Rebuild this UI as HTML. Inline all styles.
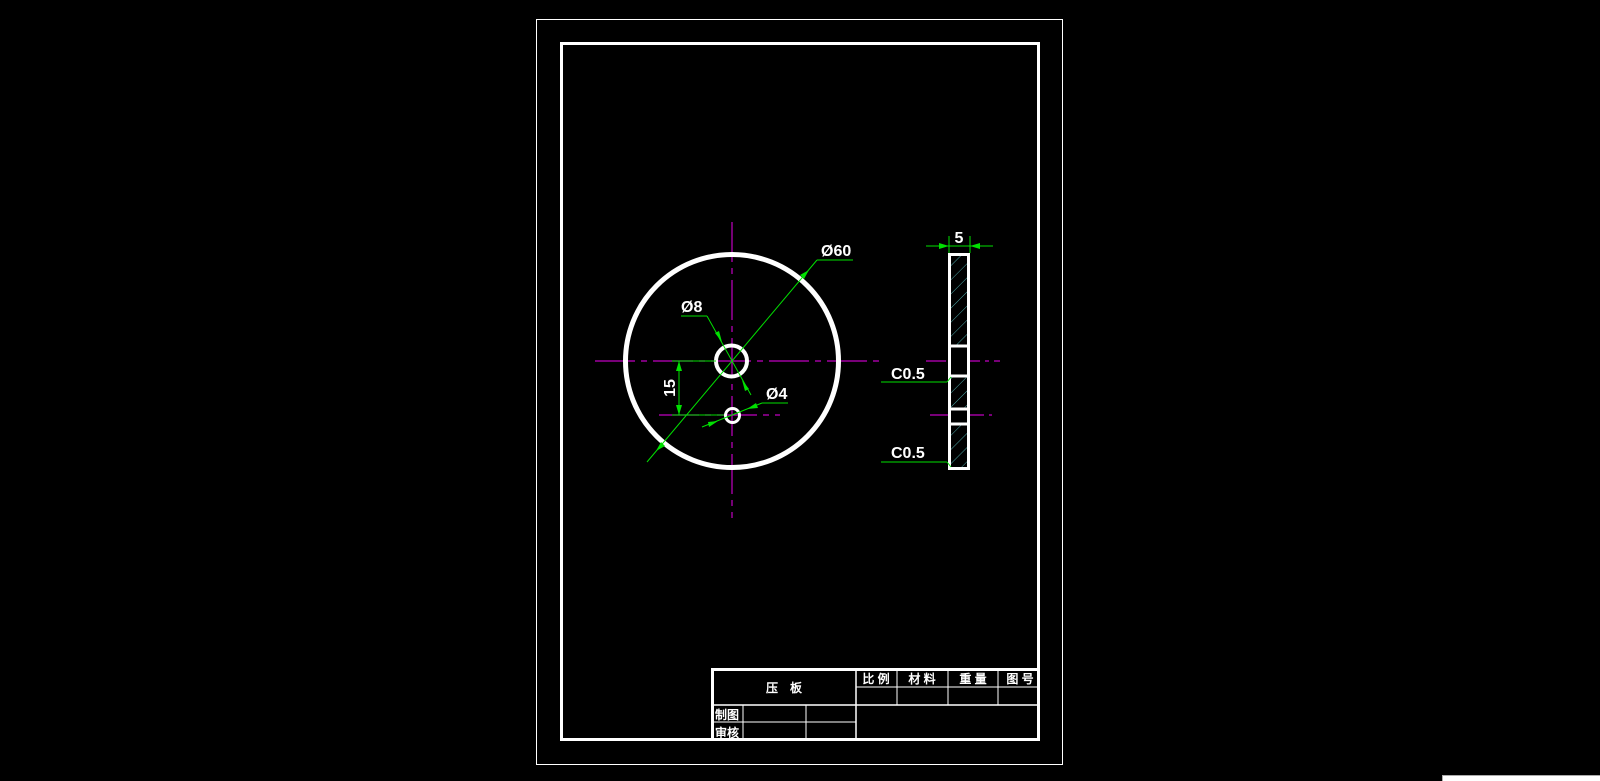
<!DOCTYPE html>
<html><head><meta charset="utf-8"><style>
html,body{margin:0;padding:0;background:#000;}
svg{display:block}
text{font-family:"Liberation Sans",sans-serif;}
.cj{font-family:"Liberation Sans","WenQuanYi Zen Hei",sans-serif;font-size:12px;fill:#fff;font-weight:bold;}
</style></head><body>
<svg width="1600" height="781" viewBox="0 0 1600 781" xmlns="http://www.w3.org/2000/svg">
<defs>
<pattern id="h" patternUnits="userSpaceOnUse" width="10" height="10" patternTransform="rotate(45)">
<line x1="0" y1="0" x2="0" y2="10" stroke="#5fd0d0" stroke-width="0.8"/>
</pattern>
</defs>
<rect width="1600" height="781" fill="#000"/>
<rect x="536.5" y="19.5" width="526" height="745" fill="none" stroke="#fff" stroke-width="1"/>
<rect x="561.5" y="43.5" width="477" height="696" fill="none" stroke="#fff" stroke-width="3"/>

<g stroke="#c000c0" stroke-width="1.2" fill="none">
<line x1="595" y1="361" x2="880" y2="361" stroke-dasharray="40,6,6,6"/>
<line x1="732" y1="222" x2="732" y2="518" stroke-dasharray="40,6,6,6"/>
<line x1="659" y1="415" x2="780" y2="415" stroke-dasharray="40,6,6,6"/>
<line x1="926" y1="361" x2="1000" y2="361" stroke-dasharray="20,5,4,5"/>
<line x1="930" y1="415" x2="992" y2="415" stroke-dasharray="20,5,4,5"/>
</g>

<g fill="none" stroke="#fff">
<circle cx="732" cy="361" r="106.5" stroke-width="5"/>
<circle cx="731.5" cy="361" r="15.5" stroke-width="4"/>
<circle cx="732.5" cy="415.5" r="7" stroke-width="3"/>
</g>

<rect x="950" y="255" width="18" height="213" fill="url(#h)"/>
<rect x="950" y="346" width="18" height="30" fill="#000"/>
<rect x="950" y="409" width="18" height="15" fill="#000"/>
<g stroke="#fff" stroke-width="3" fill="none">
<rect x="949.5" y="254.5" width="19" height="214"/>
<line x1="949.5" y1="346" x2="968.5" y2="346"/>
<line x1="949.5" y1="376" x2="968.5" y2="376"/>
<line x1="949.5" y1="409" x2="968.5" y2="409"/>
<line x1="949.5" y1="424" x2="968.5" y2="424"/>
</g>

<g stroke="#00e000" stroke-width="1" fill="none">
<line x1="926" y1="246" x2="993" y2="246"/>
<line x1="949" y1="236" x2="949" y2="253"/>
<line x1="970" y1="236" x2="970" y2="253"/>
<line x1="817" y1="260" x2="853" y2="260"/>
<line x1="817" y1="260" x2="647" y2="462"/>
<line x1="681" y1="316" x2="707" y2="316"/>
<line x1="707" y1="316" x2="751" y2="395"/>
<line x1="762" y1="403" x2="788" y2="403"/>
<line x1="762" y1="403" x2="702" y2="427"/>
<line x1="672" y1="361" x2="716" y2="361"/>
<line x1="672" y1="415" x2="724" y2="415"/>
<line x1="679" y1="361" x2="679" y2="415"/>
<line x1="881" y1="382" x2="947" y2="382"/>
<line x1="947" y1="382" x2="951" y2="377"/>
<line x1="881" y1="462" x2="947" y2="462"/>
<line x1="947" y1="462" x2="951" y2="467"/>
</g>
<g fill="#00e000">
<polygon points="949,246 939,243 939,249"/>
<polygon points="970,246 980,243 980,249"/>
<polygon points="809,270 800,275 804,279"/>
<polygon points="656,451 661,442 665,446"/>
<polygon points="722,342 715,333 719,331"/>
<polygon points="742,380 749,389 745,391"/>
<polygon points="747,409 756,403 758,408"/>
<polygon points="718,421 709,427 708,422"/>
<polygon points="679,361 676,371 682,371"/>
<polygon points="679,415 676,405 682,405"/>
</g>
<g fill="#fff" font-size="16" font-weight="bold">
<text x="959" y="243" text-anchor="middle">5</text>
<text x="821" y="256">Ø60</text>
<text x="681" y="312">Ø8</text>
<text x="766" y="399">Ø4</text>
<text x="891" y="379">C0.5</text>
<text x="891" y="458">C0.5</text>
<text transform="translate(675,388) rotate(-90)" text-anchor="middle">15</text>
</g>

<g stroke="#fff" fill="none">
<rect x="712.5" y="669.5" width="326" height="70" stroke-width="3"/>
<line x1="712" y1="705" x2="1038" y2="705" stroke-width="1.5"/>
<line x1="856" y1="669" x2="856" y2="739" stroke-width="1.5"/>
<line x1="856" y1="687" x2="1038" y2="687" stroke-width="1"/>
<line x1="897" y1="669" x2="897" y2="705" stroke-width="1"/>
<line x1="948" y1="669" x2="948" y2="705" stroke-width="1"/>
<line x1="998" y1="669" x2="998" y2="705" stroke-width="1"/>
<line x1="743" y1="705" x2="743" y2="739" stroke-width="1"/>
<line x1="806" y1="705" x2="806" y2="739" stroke-width="1"/>
<line x1="712" y1="722" x2="856" y2="722" stroke-width="1"/>
</g>
<g class="cj">
<text x="784" y="692" text-anchor="middle">压　板</text>
<text x="876" y="683" text-anchor="middle">比 例</text>
<text x="922" y="683" text-anchor="middle">材 料</text>
<text x="973" y="683" text-anchor="middle">重 量</text>
<text x="1020" y="683" text-anchor="middle">图 号</text>
<text x="727" y="719" text-anchor="middle">制图</text>
<text x="727" y="737" text-anchor="middle">审核</text>
</g>

<rect x="1442.5" y="775.5" width="158" height="7" fill="#fff" stroke="#aaa"/>
</svg>
</body></html>
